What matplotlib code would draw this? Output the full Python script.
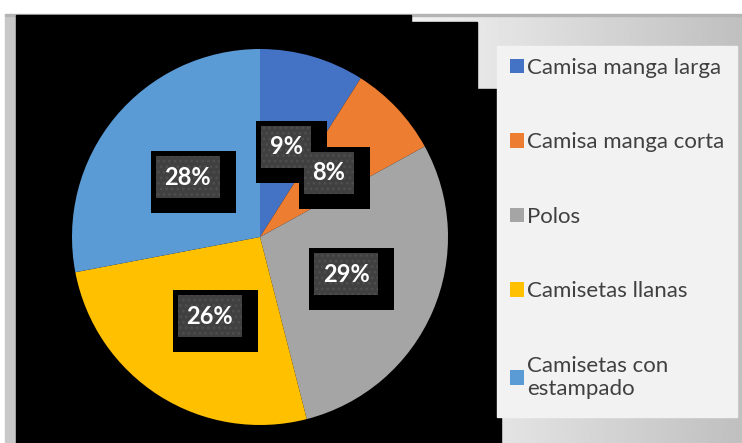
import numpy as np
import matplotlib
matplotlib.use("Agg")
import matplotlib.pyplot as plt
from matplotlib.patches import Rectangle, Polygon, Patch

plt.rcParams['font.family'] = ['Lato', 'DejaVu Sans']
plt.rcParams['hatch.linewidth'] = 1.2

# share of sales by product type (%)
categories = ["Camisa manga larga", "Camisa manga corta", "Polos",
              "Camisetas llanas", "Camisetas con\nestampado"]
shares = [9, 8, 29, 26, 28]
colors = ["#4472C4", "#ED7D31", "#A5A5A5", "#FFC000", "#5B9BD5"]

W, H = 742, 443
fig = plt.figure(figsize=(W / 100, H / 100), dpi=100, facecolor="white")

# backdrop drawn in pixel units
bg = fig.add_axes([0, 0, 1, 1])
bg.axis("off")

grad = np.linspace(0.95, 0.75, 256)[None, :].repeat(2, axis=0)
bg.imshow(grad, cmap="gray", vmin=0, vmax=1, extent=[405, W, H, 15],
          aspect="auto", interpolation="bilinear", zorder=0)
bg.add_patch(Rectangle((5, 15), 11, H - 15, color="#C8C8C8", zorder=1))
bg.add_patch(Rectangle((5, 13.5), W - 5, 2, color="#B4B4B4", zorder=1))
bg.add_patch(Polygon([(16, 15), (411, 15), (411, 22), (477, 22), (477, 89),
                      (497, 89), (497, 417), (501, 417), (501, H), (16, H)],
                     closed=True, color="black", zorder=2))
bg.add_patch(Rectangle((497, 46), 240, 371, color="#F2F2F2", zorder=3))
bg.set_xlim(0, W)
bg.set_ylim(H, 0)

# pie: centre (260, 237), radius 188 px
cx, cy, R = 260, 237, 188
ax = fig.add_axes([(cx - R) / W, (H - cy - R) / H, 2 * R / W, 2 * R / H])
ax.axis("off")
wedges, _, autotexts = ax.pie(shares, colors=colors, startangle=90,
                              counterclock=False, autopct="%d%%",
                              pctdistance=0.5, radius=1,
                              wedgeprops=dict(linewidth=0))
ax.set_xlim(-1, 1)
ax.set_ylim(-1, 1)

px = 1 / R
for t in autotexts:
    t.set_color("white")
    t.set_fontweight("bold")
    t.set_fontsize(17)
    t.set_zorder(5)
    x, y = t.get_position()
    half_w = 25 if len(t.get_text()) < 3 else 32
    half_h = 21
    # black frame, wider towards the lower right
    ax.add_patch(Rectangle((x - (half_w + 5) * px, y - (half_h + 15) * px),
                           (2 * half_w + 21) * px, (2 * half_h + 20) * px,
                           facecolor="black", linewidth=0, zorder=3))
    ax.add_patch(Rectangle((x - half_w * px, y - half_h * px),
                           2 * half_w * px, 2 * half_h * px,
                           facecolor="#404040", edgecolor="#4E4E4E",
                           hatch="...", linewidth=0, zorder=4))

handles = [Patch(facecolor=c, edgecolor="none") for c in colors]
fig.legend(handles, categories, loc="upper left",
           bbox_to_anchor=(510 / W, 1 - 58 / H), frameon=False,
           fontsize=16, labelcolor="#404040", handlelength=0.63,
           handleheight=0.63, handletextpad=0.15, labelspacing=2.45,
           borderpad=0, borderaxespad=0)

fig.savefig("out.png", dpi=100, facecolor="white")
